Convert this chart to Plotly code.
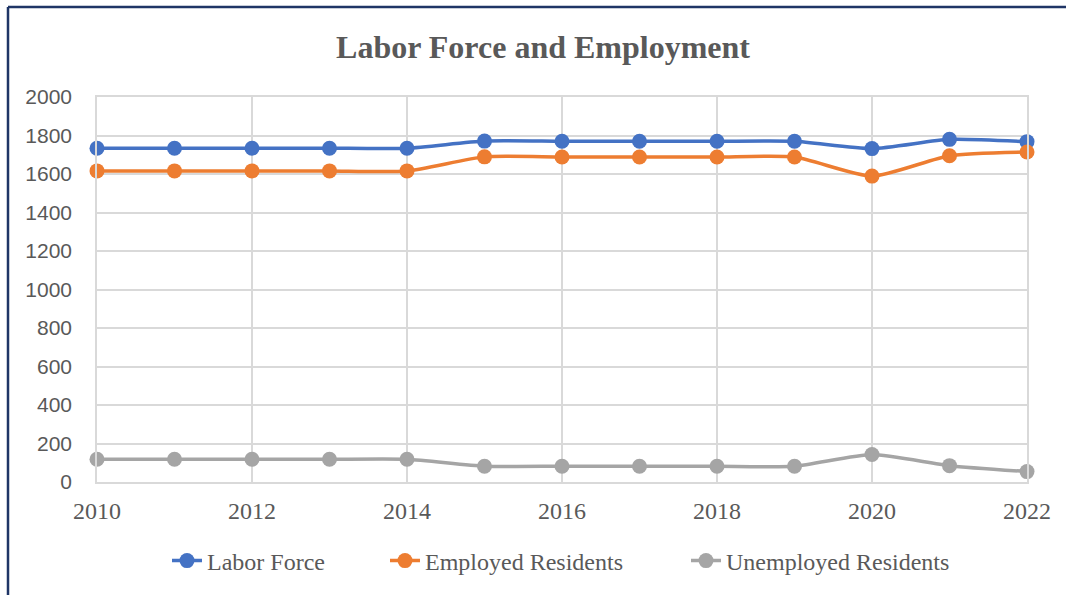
import plotly.graph_objects as go

years = list(range(2010, 2023))
labor_force = [1734, 1734, 1734, 1734, 1734, 1771, 1770, 1770, 1770, 1770, 1732, 1780, 1768]
employed = [1616, 1616, 1616, 1616, 1616, 1689, 1688, 1688, 1688, 1688, 1589, 1695, 1714]
unemployed = [118, 118, 118, 118, 118, 82, 82, 82, 82, 82, 143, 85, 54]

series = [
    ("Labor Force", labor_force, "#4472C4", "legend"),
    ("Employed Residents", employed, "#ED7D31", "legend2"),
    ("Unemployed Residents", unemployed, "#A5A5A5", "legend3"),
]

serif = "Liberation Serif, Times New Roman, serif"
sans = "Liberation Sans, Arial, sans-serif"

fig = go.Figure()
for name, vals, color, leg in series:
    fig.add_trace(go.Scatter(
        x=years, y=vals, name=name, mode="lines+markers", legend=leg,
        line=dict(color=color, width=3.5, shape="spline", smoothing=0.6),
        marker=dict(color=color, size=15),
        cliponaxis=False,
    ))

L, R, T, B = 97, 41, 97, 113
W, H = 1068, 595
pw, ph = W - L - R, H - T - B


def legend_at(text_left):
    return dict(orientation="h", x=(text_left - 40) / W, xanchor="left", xref="container",
                y=1 - 561 / H, yanchor="middle", yref="container",
                font=dict(family=serif, size=24, color="#595959"),
                bgcolor="rgba(0,0,0,0)")


fig.update_layout(
    width=W, height=H,
    margin=dict(l=L, r=R, t=T, b=B),
    paper_bgcolor="white", plot_bgcolor="white",
    title=dict(text="<b>Labor Force and Employment</b>", x=543 / W, xanchor="center",
               xref="container", y=1 - 47 / H, yanchor="middle", yref="container",
               font=dict(family=serif, size=32, color="#595959")),
    xaxis=dict(range=[2010, 2022], tickvals=list(range(2010, 2023, 2)),
               showgrid=True, gridcolor="#D9D9D9", gridwidth=1.5,
               showline=True, linecolor="#D9D9D9", linewidth=1.5, mirror=True,
               zeroline=False, ticks="", ticklabelstandoff=6,
               tickfont=dict(family=serif, size=24, color="#595959")),
    yaxis=dict(range=[0, 2000], dtick=200,
               showgrid=True, gridcolor="#D9D9D9", gridwidth=1.5,
               showline=True, linecolor="#D9D9D9", linewidth=1.5, mirror=True,
               zeroline=False, ticks="", ticklabelstandoff=19,
               tickfont=dict(family=sans, size=21, color="#595959")),
    legend=legend_at(207),
    legend2=legend_at(425),
    legend3=legend_at(726),
    showlegend=True,
)

# dark frame along the left and top edges of the chart
fig.add_shape(type="line", xref="paper", yref="paper",
              x0=(8 - L) / pw, x1=(8 - L) / pw, y0=1 + (T - 7) / ph, y1=-(B + 10) / ph,
              line=dict(color="#1F3566", width=2.5))
fig.add_shape(type="line", xref="paper", yref="paper",
              x0=(8 - L) / pw, x1=(1066 - L) / pw, y0=1 + (T - 7) / ph, y1=1 + (T - 7) / ph,
              line=dict(color="#1F3566", width=2.5))

fig.write_html("out.html")
